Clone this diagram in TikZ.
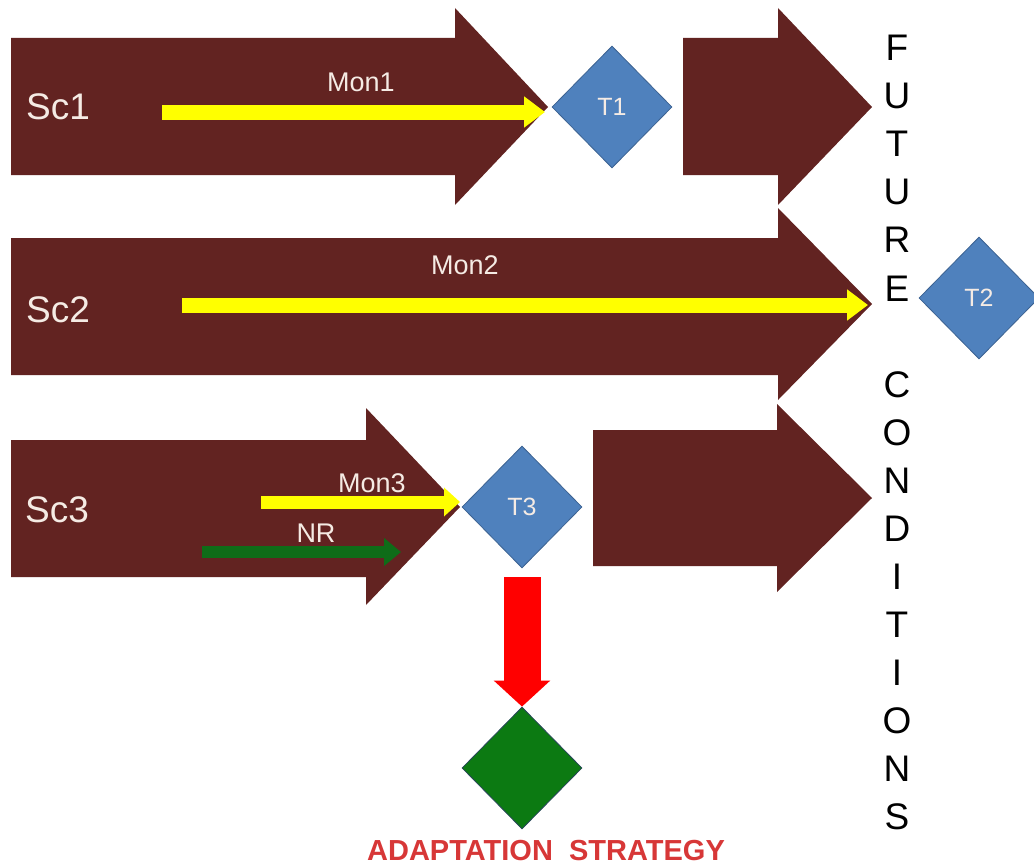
\documentclass[tikz,border=0pt]{standalone}
\usepackage{fontspec}
\setmainfont{Liberation Sans}
\usetikzlibrary{shapes.geometric,arrows.meta,calc}
\definecolor{brn}{RGB}{98,35,33}
\definecolor{tblue}{RGB}{79,129,189}
\definecolor{tblueb}{RGB}{60,98,145}
\definecolor{ylw}{RGB}{255,255,0}
\definecolor{nrg}{RGB}{14,108,24}
\definecolor{gdia}{RGB}{12,122,18}
\definecolor{gdiab}{RGB}{40,70,90}
\definecolor{redt}{RGB}{215,55,55}
\definecolor{wtxt}{RGB}{245,235,228}
\begin{document}
\begin{tikzpicture}[x=1pt,y=-1pt,
  bigarrow/.style={fill=brn},
  sclabel/.style={text=wtxt,font=\fontsize{37}{40}\selectfont,inner sep=0},
  monlabel/.style={text=wtxt,font=\fontsize{27}{30}\selectfont,inner sep=0},
  tdia/.style={diamond,fill=tblue,draw=tblueb,line width=0.8pt,minimum width=120pt,minimum height=122pt,inner sep=0,text=wtxt,font=\fontsize{25}{27}\selectfont},
  gdiamond/.style={diamond,fill=gdia,draw=gdiab,line width=0.8pt,minimum width=120pt,minimum height=122pt,inner sep=0},
  yarrow/.style={draw=ylw,line width=15pt,-{Triangle[length=21pt,width=30pt,fill=ylw]}},
  yarrowsm/.style={draw=ylw,line width=13pt,-{Triangle[length=16pt,width=28pt,fill=ylw]}},
  narrow/.style={draw=nrg,line width=12pt,-{Triangle[length=17pt,width=27pt,fill=nrg]}},
  rarrow/.style={draw=red,line width=37pt,-{Triangle[length=26pt,width=55pt,fill=red]}},
  fcletter/.style={text=black,font=\fontsize{37}{40}\selectfont,inner sep=0},
]
\useasboundingbox (0,0) rectangle (1034,867);

% big brown arrows
\fill[bigarrow] (11,38) -- (455,38) -- (455,8) -- (548,107) -- (455,205) -- (455,175) -- (11,175) -- cycle;
\fill[bigarrow] (683,38) -- (778,38) -- (778,8) -- (872,107) -- (778,205) -- (778,175) -- (683,175) -- cycle;
\fill[bigarrow] (11,238) -- (778,238) -- (778,208) -- (872,304) -- (778,400) -- (778,375) -- (11,375) -- cycle;
\fill[bigarrow] (11,440) -- (366,440) -- (366,408) -- (460,507) -- (366,605) -- (366,577) -- (11,577) -- cycle;
\fill[bigarrow] (593,430) -- (777,430) -- (777,404) -- (872,498) -- (777,592) -- (777,566) -- (593,566) -- cycle;

% scenario labels
\node[sclabel] (sc1) at (58,107) {Sc1};
\node[sclabel] (sc2) at (58,310) {Sc2};
\node[sclabel] (sc3) at (57,510) {Sc3};

% diamonds
\node[tdia] (T1) at (612,107) {T1};
\node[tdia] (T2) at (979,298) {T2};
\node[tdia] (T3) at (522,507) {T3};
\node[gdiamond] (G) at (522,768) {};

% monitoring arrows
\coordinate (m1s) at (162,112);
\coordinate (m1e) at (545,112);
\draw[yarrow] (m1s) -- (m1e);
\node[monlabel] (mon1) at (361,82) {Mon1};

\coordinate (m2s) at (182,305);
\coordinate (m2e) at (868,305);
\draw[yarrow] (m2s) -- (m2e);
\node[monlabel] (mon2) at (465,265) {Mon2};

\coordinate (m3s) at (261,502);
\coordinate (m3e) at (460,502);
\draw[yarrowsm] (m3s) -- (m3e);
\node[monlabel] (mon3) at (372,483) {Mon3};

\coordinate (nrs) at (202,552);
\coordinate (nre) at (401,552);
\draw[narrow] (nrs) -- (nre);
\node[monlabel] (nr) at (316,533) {NR};

% red arrow to adaptation strategy
\coordinate (rs) at ($(T3.south)+(0,9)$);
\draw[rarrow] (rs) -- (G.north);

\node[text=redt,font=\bfseries\fontsize{29}{32}\selectfont,inner sep=0] (as) at (546,851) {ADAPTATION\ \ STRATEGY};

% FUTURE CONDITIONS
\foreach \l [count=\i from 0] in {F,U,T,U,R,E,{},C,O,N,D,I,T,I,O,N,S}{
  \node[fcletter] (fc\i) at (897,{48+48.06*\i}) {\l};
}
\end{tikzpicture}
\end{document}
